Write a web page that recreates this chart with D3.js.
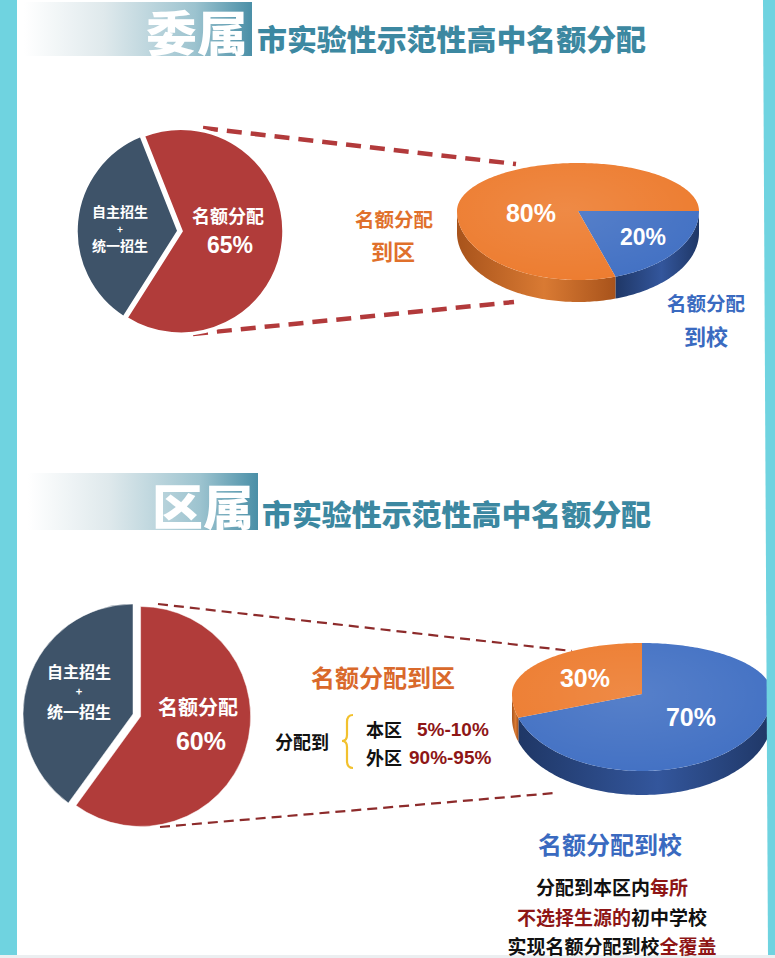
<!DOCTYPE html>
<html><head><meta charset="utf-8">
<script src="https://cdn.jsdelivr.net/npm/d3@7"></script>
<style>
body{margin:0;background:#fff}
svg{display:block}
text{font-family:"Noto Sans CJK SC","Noto Sans",sans-serif;font-weight:700}
</style>
</head><body>
<script>
// ---------- data ----------
const headerTitles = ["委属", "区属"];
const headerSubtitle = "市实验性示范性高中名额分配";

const pieA_labels = ["名额分配", "自主招生+统一招生"];
const pieA_values = [65, 35];

const pieB_labels = ["名额分配到校", "名额分配到区"];
const pieB_values = [20, 80];

const pieC_labels = ["名额分配", "自主招生+统一招生"];
const pieC_values = [60, 40];

const pieD_labels = ["名额分配到校", "名额分配到区"];
const pieD_values = [70, 30];

const rangeNames = ["本区", "外区"];
const rangeValues = ["5%-10%", "90%-95%"];

const schoolLines = [
  [["分配到本区内", "k"], ["每所", "r"]],
  [["不选择生源的", "r"], ["初中学校", "k"]],
  [["实现名额分配到校", "k"], ["全覆盖", "r"]]
];

// ---------- setup ----------
const W = 775, H = 958;
const svg = d3.select("body").append("svg").attr("width", W).attr("height", H);
const defs = svg.append("defs");
const RED = "#b13c3a", SLATE = "#3e5369", ORANGE = "#ed7d31", BLUE = "#4472c4";
const TEXTRED = "#8e1616";

svg.append("rect").attr("x", 0).attr("y", 955).attr("width", W).attr("height", 3).attr("fill", "#eceff1");

const hg = defs.append("linearGradient").attr("id", "hg").attr("x1", 0).attr("x2", 1);
hg.append("stop").attr("offset", "0%").attr("stop-color", "#ffffff");
hg.append("stop").attr("offset", "35%").attr("stop-color", "#dfe9ec");
hg.append("stop").attr("offset", "75%").attr("stop-color", "#9cc3cf");
hg.append("stop").attr("offset", "100%").attr("stop-color", "#4a8fa7");

function header(x0, x1, y0, y1, title, tx, ty, fs, sx, sy) {
  svg.append("rect").attr("x", x0).attr("y", y0).attr("width", x1 - x0).attr("height", y1 - y0)
    .attr("fill", "url(#hg)");
  svg.append("text").attr("x", tx).attr("y", ty).attr("dominant-baseline", "central")
    .attr("font-size", fs).style("font-weight", 900).attr("fill", "#fff")
    .attr("textLength", 102).attr("lengthAdjust", "spacingAndGlyphs").text(title);
  svg.append("text").attr("x", sx).attr("y", sy).attr("dominant-baseline", "central")
    .attr("font-size", 29).style("font-weight", 900).attr("fill", "#3c88a1")
    .attr("textLength", 389).attr("lengthAdjust", "spacingAndGlyphs").text(headerSubtitle);
}
header(24, 252, 2, 56, headerTitles[0], 146, 30, 48, 257, 38);
header(28, 258, 473, 530, headerTitles[1], 152, 504, 48, 262, 513);

// ---------- flat pies ----------
function flatPie(values, colors, cx, cy, r, startAngle, explodeIdx, explodeDist, strokeW) {
  const arcs = d3.pie().sort(null).startAngle(startAngle).endAngle(startAngle + 2 * Math.PI)(values);
  const arc = d3.arc().innerRadius(0).outerRadius(r);
  const g = svg.append("g").attr("transform", `translate(${cx},${cy})`);
  g.selectAll("path").data(arcs).join("path")
    .attr("d", arc)
    .attr("fill", (d, i) => colors[i])
    .attr("stroke", "#fff").attr("stroke-width", strokeW)
    .attr("transform", (d, i) => {
      if (i !== explodeIdx) return null;
      const m = (d.startAngle + d.endAngle) / 2;
      return `translate(${explodeDist * Math.sin(m)},${-explodeDist * Math.cos(m)})`;
    });
  return g;
}

function dashed(x1, y1, x2, y2, color, w, dash) {
  svg.append("line").attr("x1", x1).attr("y1", y1).attr("x2", x2).attr("y2", y2)
    .attr("stroke", color).attr("stroke-width", w).attr("stroke-dasharray", dash);
}
dashed(203, 128, 516, 164, "#b23a3b", 4.5, "15,9");
dashed(193, 334, 514, 302, "#b23a3b", 4.5, "15,9");

flatPie(pieA_values, [RED, SLATE], 179, 231, 103, -21.6 * Math.PI / 180, 0, 2, 3.5);
function txt(x, y, s, size, fill, anchor) {
  return svg.append("text").attr("x", x).attr("y", y).attr("dominant-baseline", "central")
    .attr("text-anchor", anchor || "middle").attr("font-size", size).attr("fill", fill).text(s);
}
const [aL1, aL2] = pieA_labels[1].split("+");
txt(120, 211, aL1, 14, "#fff");
txt(120, 228, "+", 10, "#fff");
txt(120, 245, aL2, 14, "#fff");
txt(228, 215, pieA_labels[0], 18, "#fff");
txt(230, 245, pieA_values[0] + "%", 23, "#fff").style("font-family", "Arial, 'Liberation Sans', sans-serif");

// ---------- 3D pies ----------
function makeSideGrad(id, c0, c1) {
  const g = defs.append("linearGradient").attr("id", id).attr("x1", 0).attr("x2", 1);
  g.append("stop").attr("offset", "0%").attr("stop-color", c0);
  g.append("stop").attr("offset", "55%").attr("stop-color", c1);
  g.append("stop").attr("offset", "100%").attr("stop-color", c0);
}
makeSideGrad("sideO", "#a8531b", "#d97a33");
makeSideGrad("sideB", "#1f3766", "#33569c");
const hl = defs.append("radialGradient").attr("id", "hl").attr("cx", "45%").attr("cy", "40%").attr("r", "60%");
hl.append("stop").attr("offset", "0%").attr("stop-color", "#fff").attr("stop-opacity", 0.10);
hl.append("stop").attr("offset", "100%").attr("stop-color", "#fff").attr("stop-opacity", 0);

function pie3d(values, colors, sideFills, cx, cy, rx, ryB, ryF, depth, startAngle) {
  const arcs = d3.pie().sort(null).startAngle(startAngle).endAngle(startAngle + 2 * Math.PI)(values);
  const P = (a, dy) => {
    const c = Math.cos(a);
    const ry = c < 0 ? ryF : ryB;
    return [cx + rx * Math.sin(a), cy - ry * c + (dy || 0)];
  };
  const samples = (a0, a1, dy) => {
    const n = Math.max(2, Math.ceil(Math.abs(a1 - a0) / 0.02));
    return d3.range(n + 1).map(k => P(a0 + (a1 - a0) * k / n, dy));
  };
  const g = svg.append("g");
  arcs.forEach((d, i) => {
    for (let k = -1; k <= 1; k++) {
      const s = Math.max(d.startAngle, Math.PI / 2 + 2 * Math.PI * k);
      const e = Math.min(d.endAngle, 3 * Math.PI / 2 + 2 * Math.PI * k);
      if (e > s) {
        const top = samples(s, e, 0);
        const bot = samples(e, s, depth);
        g.append("path").attr("d", "M" + top.concat(bot).map(p => p.join(",")).join("L") + "Z")
          .attr("fill", sideFills[i]);
      }
    }
  });
  arcs.forEach((d, i) => {
    const pts = samples(d.startAngle, d.endAngle, 0);
    g.append("path").attr("d", `M${cx},${cy}L` + pts.map(p => p.join(",")).join("L") + "Z")
      .attr("fill", colors[i]);
  });
  const all = samples(0, 2 * Math.PI, 0);
  g.append("path").attr("d", "M" + all.map(p => p.join(",")).join("L") + "Z").attr("fill", "url(#hl)");
}

pie3d(pieB_values, [BLUE, ORANGE], ["url(#sideB)", "url(#sideO)"], 578, 211, 121, 48, 69, 22, Math.PI / 2);
txt(531, 213, pieB_values[1] + "%", 25, "#fff").style("font-family", "Arial, 'Liberation Sans', sans-serif");
txt(643, 237, pieB_values[0] + "%", 23, "#fff").style("font-family", "Arial, 'Liberation Sans', sans-serif");
txt(394, 218, pieB_labels[1].slice(0, 4), 19.5, "#e0702b");
txt(393, 250, pieB_labels[1].slice(4), 22, "#e0702b");
txt(706, 302, pieB_labels[0].slice(0, 4), 19.5, "#3a6ac0");
txt(706, 335, pieB_labels[0].slice(4), 22, "#3a6ac0");

// ---------- second section ----------
dashed(158, 604, 572, 651, "#8d2b2b", 2.2, "10,6");
dashed(160, 827, 555, 793, "#8d2b2b", 2.2, "10,6");

flatPie(pieC_values, [RED, SLATE], 133, 714, 110, 0, 0, 8, 0.5);
const [cL1, cL2] = pieC_labels[1].split("+");
txt(79, 671, cL1, 16, "#fff");
txt(79, 691, "+", 11, "#fff");
txt(79, 711, cL2, 16, "#fff");
txt(198, 706, pieC_labels[0], 20, "#fff");
txt(201, 741, pieC_values[0] + "%", 25, "#fff").style("font-family", "Arial, 'Liberation Sans', sans-serif");

pie3d(pieD_values, [BLUE, ORANGE], ["url(#sideB)", "url(#sideO)"], 642, 694, 130, 51, 77, 24, 0);
txt(585, 678, pieD_values[1] + "%", 25, "#fff").style("font-family", "Arial, 'Liberation Sans', sans-serif");
txt(691, 717, pieD_values[0] + "%", 25, "#fff").style("font-family", "Arial, 'Liberation Sans', sans-serif");

txt(383, 676, pieD_labels[1], 24, "#d9692b");
txt(302, 741, "分配到", 18, "#111");
svg.append("path")
  .attr("d", "M353,715 Q347,715 347,722 L347,735 Q347,741 342,741 Q347,741 347,747 L347,761 Q347,768 353,768")
  .attr("fill", "none").attr("stroke", "#f2c12e").attr("stroke-width", 2.2);
txt(366, 729, rangeNames[0], 18, "#111", "start");
txt(366, 757, rangeNames[1], 18, "#111", "start");
txt(417, 729, rangeValues[0], 19, TEXTRED, "start").style("font-family", "Arial, 'Liberation Sans', sans-serif");
txt(409, 757, rangeValues[1], 19, TEXTRED, "start").style("font-family", "Arial, 'Liberation Sans', sans-serif");

txt(610, 843, pieD_labels[0], 24, "#3a6ac0");
const lineY = [886, 916, 945];
schoolLines.forEach((parts, i) => {
  const t = svg.append("text").attr("x", 612).attr("y", lineY[i]).attr("dominant-baseline", "central")
    .attr("text-anchor", "middle").attr("font-size", 19);
  parts.forEach(p => t.append("tspan").attr("fill", p[1] === "r" ? TEXTRED : "#111").text(p[0]));
});

svg.append("rect").attr("x", 0).attr("y", 0).attr("width", 17).attr("height", 955).attr("fill", "#6fd3e0");
svg.append("path").attr("d", `M763,0L${W},0L${W},955L768,955Z`).attr("fill", "#6fd3e0");
</script>
</body></html>
